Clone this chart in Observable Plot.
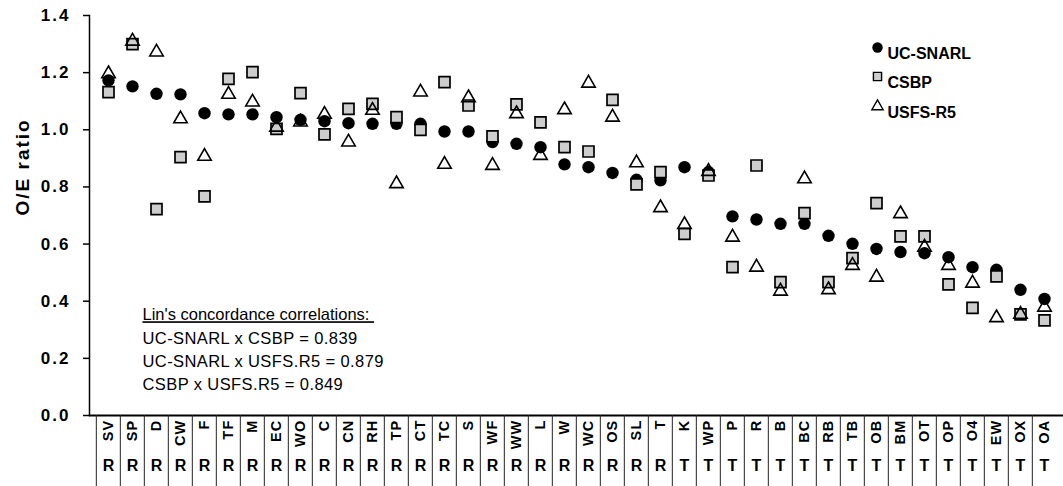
<!DOCTYPE html>
<html>
<head>
<meta charset="utf-8">
<script src="https://cdn.jsdelivr.net/npm/d3@7"></script>
<script src="https://cdn.jsdelivr.net/npm/@observablehq/plot@0.6"></script>
<style>
  html, body { margin: 0; padding: 0; background: white; }
</style>
</head>
<body>
<div id="chart"></div>
<script>
const sites = ["SV","SP","D","CW","F","TF","M","EC","WO","C","CN","RH","TP","CT","TC","S","WF","WW","L","W","WC","OS","SL","T","K","WP","P","R","B","BC","RB","TB","OB","BM","OT","OP","O4","EW","OX","OA"];
const groups = ["R","R","R","R","R","R","R","R","R","R","R","R","R","R","R","R","R","R","R","R","R","R","R","R","T","T","T","T","T","T","T","T","T","T","T","T","T","T","T","T"];
const ucSnarl = [1.173,1.152,1.126,1.124,1.058,1.054,1.054,1.044,1.035,1.030,1.023,1.021,1.021,1.021,0.994,0.994,0.957,0.951,0.939,0.879,0.869,0.849,0.825,0.823,0.869,0.852,0.697,0.686,0.671,0.671,0.629,0.601,0.583,0.572,0.568,0.554,0.519,0.510,0.440,0.408];
const csbp = [1.132,1.300,0.722,0.904,0.767,1.178,1.202,1.003,1.128,0.984,1.073,1.091,1.044,1.000,1.167,1.085,0.977,1.089,1.026,0.939,0.924,1.105,0.809,0.852,0.636,0.840,0.519,0.875,0.467,0.708,0.467,0.551,0.743,0.627,0.627,0.459,0.377,0.487,0.354,0.333];
const usfsR5 = [1.196,1.310,1.272,1.038,0.907,1.124,1.097,1.009,1.027,1.054,0.957,1.068,0.811,1.132,0.879,1.112,0.875,1.056,0.910,1.070,1.163,1.044,0.884,0.727,0.668,0.854,0.624,0.519,0.435,0.828,0.440,0.525,0.484,0.706,0.589,0.525,0.463,0.342,0.354,0.379];
const yTicks = [0, 0.2, 0.4, 0.6, 0.8, 1.0, 1.2, 1.4];
const seriesNames = ["UC-SNARL", "CSBP", "USFS-R5"];
const annotationLines = [
  "Lin's concordance correlations:\u00a0",
  "UC-SNARL x CSBP = 0.839",
  "UC-SNARL x USFS.R5 = 0.879",
  "CSBP x USFS.R5 = 0.849"
];

const W = 1063, H = 486;
const mL = 89, mR = 0, mT = 15, mB = 71;
const bw = (W - mL - mR) / sites.length;

const rows = sites.map((s, i) => ({site: s, group: groups[i], uc: ucSnarl[i], csbp: csbp[i], usfs: usfsR5[i]}));

const FONT = "'Liberation Sans', Arial, Helvetica, sans-serif";
const sqFill = "#cdcdcd";

const marks = [
  Plot.ruleY([0], {stroke: "black", strokeWidth: 2}),
  Plot.frame({anchor: "left", stroke: "black", strokeWidth: 1.5}),
  Plot.ruleX(sites, {x: d => d, dx: -bw / 2, y1: 0, y2: -0.3, stroke: "#222", strokeWidth: 1}),
  Plot.axisY({ticks: yTicks, tickFormat: d3.format(".1f"), tickSize: 6, tickPadding: 13,
              fontSize: 17, fontWeight: "bold", label: null}),
  Plot.text(["O/E ratio"], {frameAnchor: "left", text: d => d, rotate: -90, dx: -67,
              fontSize: 19, fontWeight: "bold", fill: "black"}),
  Plot.text(sites, {x: d => d, text: d => d, frameAnchor: "bottom", dy: 4, rotate: -90,
              textAnchor: "end", lineAnchor: "middle", fontSize: 14.5, fontWeight: "bold", fill: "black"}),
  Plot.text(rows, {x: "site", text: "group", frameAnchor: "bottom", dy: 55,
              fontSize: 16, fontWeight: "bold", fill: "black"}),
  Plot.dot(rows, {x: "site", y: "uc", symbol: "circle", r: 6.2, fill: "black", stroke: "none"}),
  Plot.dot(rows, {x: "site", y: "csbp", symbol: "square", r: 6.2, fill: sqFill, stroke: "black", strokeWidth: 1.7}),
  Plot.dot(rows, {x: "site", y: "usfs", symbol: "triangle", r: 5.0, fill: "none", stroke: "black", strokeWidth: 1.6}),
  Plot.dot([seriesNames[0]], {frameAnchor: "top-left", dx: 877 - mL, dy: 47 - mT, symbol: "circle", r: 5.2, fill: "black"}),
  Plot.dot([seriesNames[1]], {frameAnchor: "top-left", dx: 877 - mL, dy: 76 - mT, symbol: "square", r: 4.6, fill: sqFill, stroke: "black", strokeWidth: 1.4}),
  Plot.dot([seriesNames[2]], {frameAnchor: "top-left", dx: 877 - mL, dy: 106 - mT, symbol: "triangle", r: 4.2, fill: "none", stroke: "black", strokeWidth: 1.4}),
  Plot.text([seriesNames[0]], {frameAnchor: "top-left", text: d => d, dx: 887 - mL, dy: 47 - mT, textAnchor: "start", fontSize: 16, fontWeight: "bold", fill: "black"}),
  Plot.text([seriesNames[1]], {frameAnchor: "top-left", text: d => d, dx: 887 - mL, dy: 76 - mT, textAnchor: "start", fontSize: 16, fontWeight: "bold", fill: "black"}),
  Plot.text([seriesNames[2]], {frameAnchor: "top-left", text: d => d, dx: 887 - mL, dy: 106 - mT, textAnchor: "start", fontSize: 16, fontWeight: "bold", fill: "black"}),
  ...annotationLines.map((t, i) => Plot.text([t], {frameAnchor: "top-left", text: d => d, dx: 142 - mL, dy: 308 + i * 23.3 - mT,
      textAnchor: "start", fontSize: 16.5, fill: "black"}))
];

const chart = Plot.plot({
  width: W, height: H,
  marginLeft: mL, marginRight: mR, marginTop: mT, marginBottom: mB,
  style: {fontFamily: FONT, background: "white", color: "black", overflow: "visible"},
  x: {type: "band", domain: sites, padding: 0, axis: null},
  y: {domain: [0, 1.4], axis: null},
  marks
});

document.getElementById("chart").appendChild(chart);

const svg = d3.select(chart);
svg.selectAll("[aria-label='y-axis tick label'] text").attr("letter-spacing", 2);
svg.selectAll("[aria-label='y-axis tick']").attr("stroke-width", 1.5);
svg.selectAll("text").filter(function() { return this.textContent === "O/E ratio"; }).attr("letter-spacing", 2);
svg.selectAll("text").filter(function() { return sites.includes(this.textContent) && this.getAttribute("transform") && this.getAttribute("transform").includes("rotate"); })
   .attr("letter-spacing", 1.2);
svg.selectAll("text").filter(function() { return this.textContent.startsWith("Lin's"); })
   .attr("text-decoration", "underline").attr("xml:space", "preserve");
svg.selectAll("text").filter(function() { return /= 0\.8/.test(this.textContent); })
   .attr("letter-spacing", 0.4);
</script>
</body>
</html>
